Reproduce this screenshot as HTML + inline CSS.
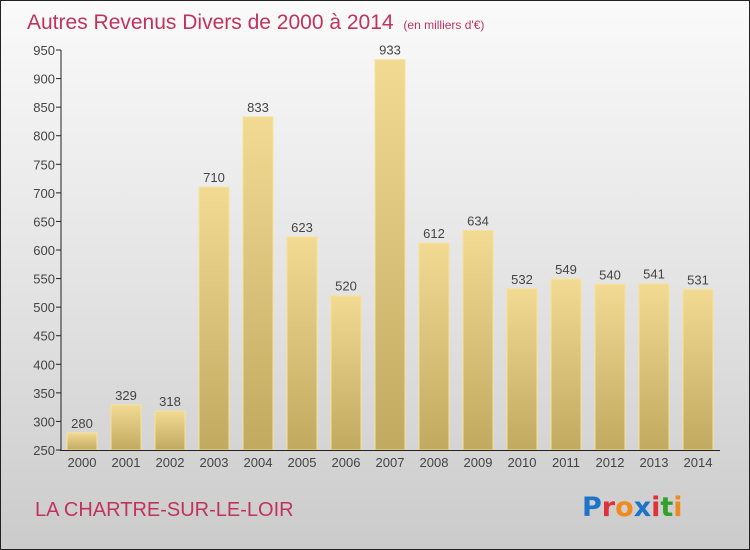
<!DOCTYPE html>
<html><head><meta charset="utf-8"><style>
body{margin:0;width:750px;height:550px;overflow:hidden;font-family:"Liberation Sans",sans-serif}
#wrap{position:absolute;left:0;top:0;width:748px;height:548px;border:1px solid #222;background:linear-gradient(#fafafa,#e2e2e2 55%,#cbcbcb)}
</style></head><body>
<div id="wrap">
<svg width="750" height="550" style="position:absolute;left:-1px;top:-1px">
<defs><linearGradient id="bg" x1="0" y1="0" x2="0" y2="1"><stop offset="0" stop-color="#f3da93"/><stop offset="1" stop-color="#c2a960"/></linearGradient></defs>
<text x="27" y="29" font-size="21" fill="#c0335f">Autres Revenus Divers de 2000 à 2014 <tspan font-size="12" dx="4">(en milliers d'€)</tspan></text>
<g id="g"></g>
<text x="35" y="516" font-size="20" fill="#c0335f">LA CHARTRE-SUR-LE-LOIR</text>
<text x="582" y="516" font-size="27" font-weight="bold" font-family="DejaVu Sans, sans-serif"><tspan fill="#1f73c9">P</tspan><tspan fill="#e0303a">r</tspan><tspan fill="#f08a1c">o</tspan><tspan fill="#1f73c9">x</tspan><tspan fill="#e0303a">i</tspan><tspan fill="#32a02c">t</tspan><tspan fill="#f08a1c">i</tspan></text>
</svg></div>
<script>
const years=["2000","2001","2002","2003","2004","2005","2006","2007","2008","2009","2010","2011","2012","2013","2014"];
const values=[280,329,318,710,833,623,520,933,612,634,532,549,540,541,531];
const ticks=[250,300,350,400,450,500,550,600,650,700,750,800,850,900,950];
const NS="http://www.w3.org/2000/svg";
const g=document.getElementById("g");
const y=v=>450-(v-250)*400/700;
const x=i=>82+i*44;
function mk(t,a,txt){const e=document.createElementNS(NS,t);for(const k in a)e.setAttribute(k,a[k]);if(txt!=null)e.textContent=txt;g.appendChild(e);return e;}
ticks.forEach(t=>{
 const l=mk("line",{x1:56,x2:61,y1:y(t),y2:y(t),stroke:"#222"});
 
 
 const tx=mk("text",{x:55,y:y(t)+5,"text-anchor":"end","font-size":13,fill:"#444"},t);
 
 
});
values.forEach((v,i)=>{
 const r=mk("rect",{x:x(i)-15,y:y(v),width:30,height:450-y(v),fill:"url(#bg)",stroke:"#f6e29c","stroke-width":1});
 
 
 const lb=mk("text",{x:x(i),y:y(v)-5,"text-anchor":"middle","font-size":13,fill:"#444"},v);
 
 
 const xl=mk("text",{x:x(i),y:467,"text-anchor":"middle","font-size":13,fill:"#444"},years[i]);
 
 
});
const ya=mk("line",{x1:61,x2:61,y1:y(950),y2:451,stroke:"#222"});


const xa=mk("line",{x1:60,x2:720,y1:450.5,y2:450.5,stroke:"#222"});


</script>
</body></html>
